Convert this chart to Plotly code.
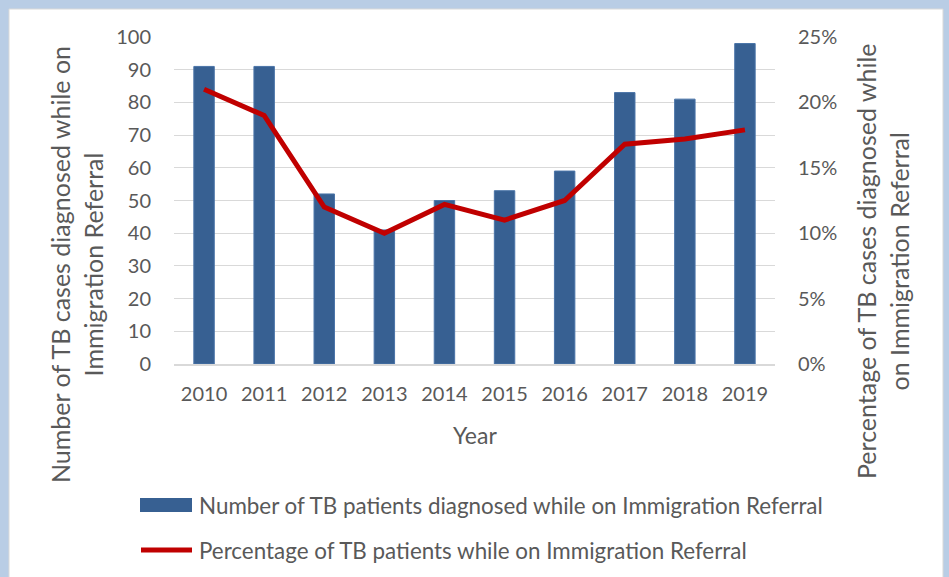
import plotly.graph_objects as go

years = ["2010", "2011", "2012", "2013", "2014", "2015", "2016", "2017", "2018", "2019"]
counts = [91, 91, 52, 41, 50, 53, 59, 83, 81, 98]
percentages = [0.21, 0.19, 0.12, 0.10, 0.122, 0.11, 0.125, 0.168, 0.172, 0.179]

bar_name = "Number of TB patients diagnosed while on Immigration Referral"
line_name = "Percentage of TB patients while on Immigration Referral"
left_title = "Number of TB cases diagnosed while on<br>Immigration Referral"
right_title = "Percentage of TB cases diagnosed while<br>on Immigration Referral"
x_title = "Year"

BLUE = "#376092"
RED = "#C00000"
TXT = "#595959"
FONT = "Lato"

W, H = 949, 577
L, R, T, B = 174, 174, 37, 213
pw = W - L - R
ph = H - T - B

def px(x):
    return (x - L) / pw

def py(y):
    return (H - B - y) / ph

fig = go.Figure()
fig.add_trace(go.Bar(x=years, y=counts, name=bar_name, marker=dict(color=BLUE, line=dict(color="#4A74A8", width=1)),
                     showlegend=False))
fig.add_trace(go.Scatter(x=years, y=percentages, name=line_name, yaxis="y2", mode="lines",
                         line=dict(color=RED, width=5), showlegend=False))

shapes = [
    dict(type="rect", xref="paper", yref="paper", x0=px(9), x1=px(943), y0=py(590), y1=py(9),
         fillcolor="white", line=dict(color="#D9D9D9", width=1), layer="below"),
    dict(type="rect", xref="paper", yref="paper", x0=px(140), x1=px(192), y0=py(512), y1=py(498),
         fillcolor=BLUE, line=dict(width=0)),
    dict(type="line", xref="paper", yref="paper", x0=px(141), x1=px(192), y0=py(550), y1=py(550),
         line=dict(color=RED, width=5)),
]

annotations = [
    dict(text=left_title, xref="paper", yref="paper", x=px(76), y=py(265), textangle=-90,
         showarrow=False, font=dict(family=FONT, size=25, color=TXT), xanchor="center", yanchor="middle"),
    dict(text=right_title, xref="paper", yref="paper", x=px(882), y=py(261), textangle=-90,
         showarrow=False, font=dict(family=FONT, size=25, color=TXT), xanchor="center", yanchor="middle"),
    dict(text=x_title, xref="paper", yref="paper", x=0.5, y=py(435),
         showarrow=False, font=dict(family=FONT, size=23, color=TXT), xanchor="center", yanchor="middle"),
    dict(text=bar_name, xref="paper", yref="paper", x=px(197), y=py(505),
         showarrow=False, font=dict(family=FONT, size=22.4, color=TXT), xanchor="left", yanchor="middle"),
    dict(text=line_name, xref="paper", yref="paper", x=px(197), y=py(550),
         showarrow=False, font=dict(family=FONT, size=22.4, color=TXT), xanchor="left", yanchor="middle"),
]

fig.update_layout(
    width=W, height=H,
    margin=dict(l=L, r=R, t=T, b=B, pad=0),
    paper_bgcolor="#B9CDE5",
    plot_bgcolor="white",
    bargap=0.66,
    font=dict(family=FONT, size=20, color=TXT),
    shapes=shapes,
    annotations=annotations,
    xaxis=dict(showgrid=False, showline=True, linecolor="#D9D9D9", linewidth=1.5, ticks="",
               ticklabelstandoff=11, tickfont=dict(family=FONT, size=20, color=TXT)),
    yaxis=dict(range=[0, 100], dtick=10, showgrid=True, gridcolor="#D9D9D9", gridwidth=1.3,
               zeroline=False, showline=False, ticks="", ticklabelstandoff=22,
               tickfont=dict(family=FONT, size=20, color=TXT)),
    yaxis2=dict(range=[0, 0.25], dtick=0.05, tickformat=".0%", overlaying="y", side="right",
                showgrid=False, zeroline=False, showline=False, ticks="", ticklabelstandoff=22,
                tickfont=dict(family=FONT, size=20, color=TXT)),
)

fig.write_html("out.html")
